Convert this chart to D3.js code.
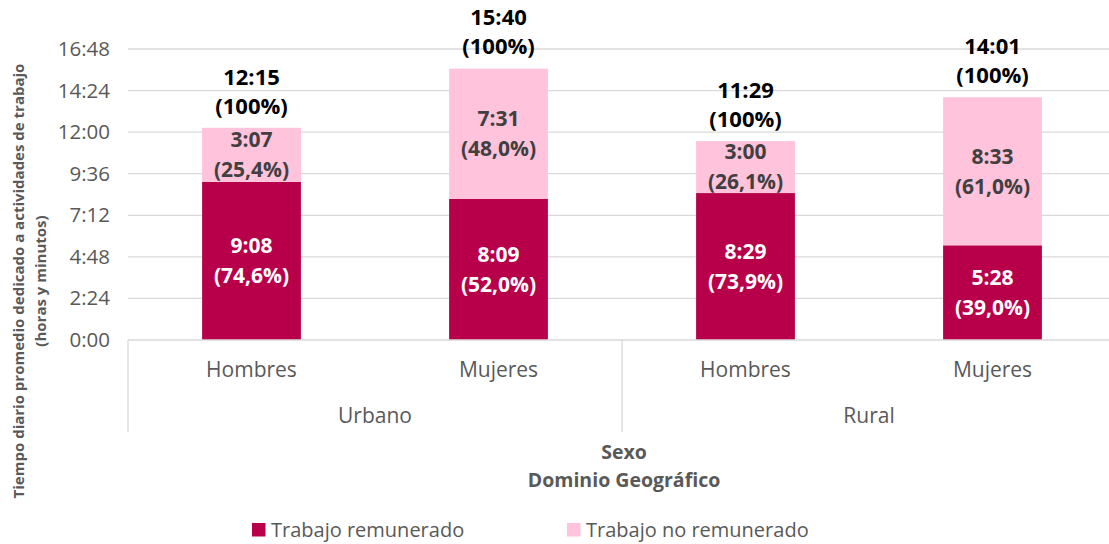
<!DOCTYPE html>
<html>
<head>
<meta charset="utf-8">
<script src="https://cdn.jsdelivr.net/npm/d3@7"></script>
<style>
  html, body { margin: 0; padding: 0; background: #fff; }
  svg { display: block; font-family: "Open Sans", sans-serif; }
</style>
</head>
<body>
<svg id="chart" width="1109" height="544"></svg>
<script>
// ---- Data ----
const groups = ["Urbano", "Rural"];
const sexes = ["Hombres", "Mujeres", "Hombres", "Mujeres"];
const categoryGroup = ["Urbano", "Urbano", "Rural", "Rural"];
const seriesNames = ["Trabajo remunerado", "Trabajo no remunerado"];
// minutes
const remunerado = [548, 489, 509, 328];      // 9:08, 8:09, 8:29, 5:28
const noRemunerado = [187, 451, 180, 513];    // 3:07, 7:31, 3:00, 8:33
const pctRemunerado = ["74,6%", "52,0%", "73,9%", "39,0%"];
const pctNoRemunerado = ["25,4%", "48,0%", "26,1%", "61,0%"];
const yTicks = [0, 144, 288, 432, 576, 720, 864, 1008];
const colors = ["#B8004A", "#FFC3DB"];

const fmt = m => Math.floor(m / 60) + ":" + String(m % 60).padStart(2, "0");

const svg = d3.select("#chart");
const plot = { left: 128, right: 1116, top: 49, bottom: 340 };

const keys = d3.range(4);
const x = d3.scaleBand().domain(keys).range([plot.left, plot.right]).paddingInner(0.6).paddingOuter(0.3);
const y = d3.scaleLinear().domain([0, 1008]).range([plot.bottom, plot.top]);

// gridlines
svg.append("g").selectAll("line").data(yTicks.filter(t => t > 0)).join("line")
  .attr("x1", plot.left).attr("x2", 1109)
  .attr("y1", d => y(d)).attr("y2", d => y(d))
  .attr("stroke", "#D9D9D9").attr("stroke-width", 1.3);

// y axis
const yAxis = d3.axisLeft(y).tickValues(yTicks).tickFormat(fmt).tickSize(0).tickPadding(18);
const yg = svg.append("g").attr("transform", `translate(${plot.left},0)`).call(yAxis);
yg.select(".domain").remove();
yg.selectAll("text").attr("fill", "#595959").style("font-size", "20.5px").style("font-family", "Open Sans");

// y title
const yt = svg.append("text").attr("transform", "translate(19,281) rotate(-90)")
  .attr("text-anchor", "middle").attr("fill", "#595959").style("font-weight", "bold").style("font-size", "15px");
yt.append("tspan").attr("x", 0).attr("dy", "0.35em").text("Tiempo diario promedio dedicado a actividades de trabajo");
yt.append("tspan").attr("x", 0).attr("dy", 22).text("(horas y minutos)");

// stacked data
const stacked = keys.map(i => ({
  i,
  segs: [
    { y0: 0, y1: remunerado[i], v: remunerado[i], pct: pctRemunerado[i], s: 0 },
    { y0: remunerado[i], y1: remunerado[i] + noRemunerado[i], v: noRemunerado[i], pct: pctNoRemunerado[i], s: 1 }
  ]
}));

const barG = svg.append("g");
stacked.forEach(d => {
  d.segs.forEach(s => {
    barG.append("rect")
      .attr("x", x(d.i)).attr("width", x.bandwidth())
      .attr("y", y(s.y1)).attr("height", y(s.y0) - y(s.y1))
      .attr("fill", colors[s.s]);
    const cy = (y(s.y0) + y(s.y1)) / 2;
    const t = barG.append("text").attr("text-anchor", "middle")
      .attr("fill", s.s === 0 ? "#FFFFFF" : "#404040")
      .style("font-weight", "bold").style("font-size", "21px");
    t.append("tspan").attr("x", x(d.i) + x.bandwidth() / 2).attr("y", cy - 15).attr("dy", "0.35em").text(fmt(s.v));
    t.append("tspan").attr("x", x(d.i) + x.bandwidth() / 2).attr("y", cy + 15).attr("dy", "0.35em").text("(" + s.pct + ")");
  });
  const total = remunerado[d.i] + noRemunerado[d.i];
  const ty = y(total);
  const tt = barG.append("text").attr("text-anchor", "middle").attr("fill", "#000")
    .style("font-weight", "bold").style("font-size", "22px");
  tt.append("tspan").attr("x", x(d.i) + x.bandwidth() / 2).attr("y", ty - 51).attr("dy", "0.35em").text(fmt(total));
  tt.append("tspan").attr("x", x(d.i) + x.bandwidth() / 2).attr("y", ty - 22).attr("dy", "0.35em").text("(100%)");
});

// x axis baseline
svg.append("line").attr("x1", plot.left).attr("x2", 1109).attr("y1", plot.bottom).attr("y2", plot.bottom)
  .attr("stroke", "#D9D9D9").attr("stroke-width", 1.3);

// group separators
const sepX = [plot.left, (plot.left + plot.right) / 2, plot.right];
svg.append("g").selectAll("line").data(sepX).join("line")
  .attr("x1", d => d).attr("x2", d => d).attr("y1", plot.bottom).attr("y2", 432)
  .attr("stroke", "#D9D9D9").attr("stroke-width", 1.3);

// category labels
svg.append("g").selectAll("text").data(keys).join("text")
  .attr("x", i => x(i) + x.bandwidth() / 2).attr("y", 370).attr("dy", "0.35em")
  .attr("text-anchor", "middle").attr("fill", "#595959").style("font-size", "21px")
  .text(i => sexes[i]);

// group labels
const gx = d3.scaleBand().domain(groups).range([plot.left, plot.right]);
svg.append("g").selectAll("text").data(groups).join("text")
  .attr("x", g => gx(g) + gx.bandwidth() / 2).attr("y", 416).attr("dy", "0.35em")
  .attr("text-anchor", "middle").attr("fill", "#595959").style("font-size", "21px")
  .text(g => g);

// x titles
svg.append("text").attr("x", 624).attr("y", 452).attr("dy", "0.35em").attr("text-anchor", "middle")
  .attr("fill", "#595959").style("font-weight", "bold").style("font-size", "19.5px").text("Sexo");
svg.append("text").attr("x", 624).attr("y", 480).attr("dy", "0.35em").attr("text-anchor", "middle")
  .attr("fill", "#595959").style("font-weight", "bold").style("font-size", "19.5px").text("Dominio Geográfico");

// legend
const legX = [252, 567];
const lg = svg.append("g").selectAll("g").data(seriesNames).join("g")
  .attr("transform", (d, i) => `translate(${legX[i]},523)`);
lg.append("rect").attr("width", 13.5).attr("height", 13.5).attr("fill", (d, i) => colors[i]);
lg.append("text").attr("x", 19).attr("y", 7).attr("dy", "0.35em").attr("fill", "#595959")
  .style("font-size", "20px").text(d => d);
</script>
</body>
</html>
